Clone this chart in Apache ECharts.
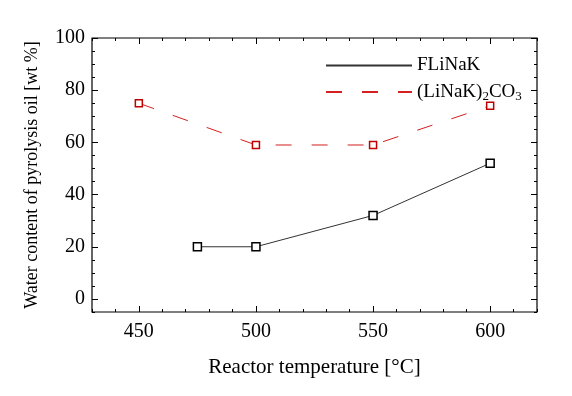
<!DOCTYPE html>
<html>
<head>
<meta charset="utf-8">
<script src="https://cdn.jsdelivr.net/npm/echarts@6/dist/echarts.min.js"></script>
<style>
  html, body { margin: 0; padding: 0; background: #fff; }
  #chart { width: 572px; height: 396px; }
</style>
</head>
<body>
<div id="chart"></div>
<script>
// 数据
var flinakTemp = [475, 500, 550, 600];
var flinakWater = [20, 20, 32, 52];
var carbTemp = [450, 500, 550, 600];
var carbWater = [75, 59, 59, 74];
var xMajor = [450, 500, 550, 600];
var yMajor = [0, 20, 40, 60, 80, 100];

var font = 'Liberation Serif';
var chart = echarts.init(document.getElementById('chart'));

function pairs(xs, ys) {
  return xs.map(function (x, i) { return [x, ys[i]]; });
}

// 主刻度 / 次刻度 轴
function xAx(pos, major, show) {
  var ax = {
    type: 'value', position: pos, min: 430, max: 620, gridIndex: 0,
    axisLine: { show: false, onZero: false }, splitLine: { show: false },
    axisTick: { inside: true, length: major ? 6 : 3, lineStyle: { color: '#000' } },
    axisLabel: { show: false }
  };
  if (major) {
    ax.axisTick.customValues = xMajor;
    ax.axisLabel = { show: show, customValues: xMajor, fontFamily: font, fontSize: 20, color: '#000', margin: 10 };
  } else {
    ax.interval = 10;
  }
  return ax;
}
function yAx(pos, major, show) {
  var ax = {
    type: 'value', position: pos, min: -5, max: 100, gridIndex: 0,
    axisLine: { show: false, onZero: false }, splitLine: { show: false },
    axisTick: { inside: true, length: major ? 6 : 3, lineStyle: { color: '#000' } },
    axisLabel: { show: false }
  };
  if (major) {
    ax.axisTick.customValues = yMajor;
    ax.axisLabel = { show: show, customValues: yMajor, fontFamily: font, fontSize: 20, color: '#000', margin: 7 };
  } else {
    ax.interval = 5;
  }
  return ax;
}

var xMain = xAx('bottom', true, true);
xMain.name = 'Reactor temperature [°C]';
xMain.nameLocation = 'middle';
xMain.nameGap = 45;
xMain.nameTextStyle = { fontFamily: font, fontSize: 21, color: '#000' };

var yMain = yAx('left', true, true);
yMain.name = 'Water content of pyrolysis oil [wt %]';
yMain.nameLocation = 'middle';
yMain.nameGap = 51;
yMain.nameTextStyle = { fontFamily: font, fontSize: 18, color: '#000' };

var option = {
  animation: false,
  backgroundColor: '#fff',
  grid: { left: 92, right: 35, top: 38, bottom: 84, show: true, borderColor: '#000', borderWidth: 1.2 },
  xAxis: [xMain, xAx('bottom', false), xAx('top', true, false), xAx('top', false)],
  yAxis: [yMain, yAx('left', false), yAx('right', true, false), yAx('right', false)],
  legend: {
    orient: 'vertical', left: 320, top: 51,
    itemWidth: 86, itemHeight: 14, itemGap: 6,
    itemStyle: { opacity: 0 },
    textStyle: {
      fontFamily: font, fontSize: 19, color: '#000',
      rich: {
        a: { fontFamily: font, fontSize: 19, color: '#000', lineHeight: 20 },
        s: { fontFamily: font, fontSize: 13, color: '#000', lineHeight: 20, padding: [9, 0, 0, 0] }
      }
    },
    formatter: function (name) {
      if (name === 'carb') return '{a|(LiNaK)}{s|2}{a|CO}{s|3}';
      return '{a|' + name + '}';
    }
  },
  series: [
    {
      name: 'FLiNaK', type: 'line', xAxisIndex: 0, yAxisIndex: 0,
      data: pairs(flinakTemp, flinakWater),
      symbol: 'rect', symbolSize: 8,
      lineStyle: { color: '#333', width: 1 },
      itemStyle: { color: '#fff', borderColor: '#000', borderWidth: 1.5 }
    },
    {
      name: 'carb', type: 'line', xAxisIndex: 0, yAxisIndex: 0,
      data: pairs(carbTemp, carbWater),
      symbol: 'rect', symbolSize: 7,
      lineStyle: { color: '#d42020', width: 1, type: [16, 20] },
      itemStyle: { color: '#fff', borderColor: '#c00000', borderWidth: 1.5 }
    }
  ]
};
chart.setOption(option);
</script>
</body>
</html>
